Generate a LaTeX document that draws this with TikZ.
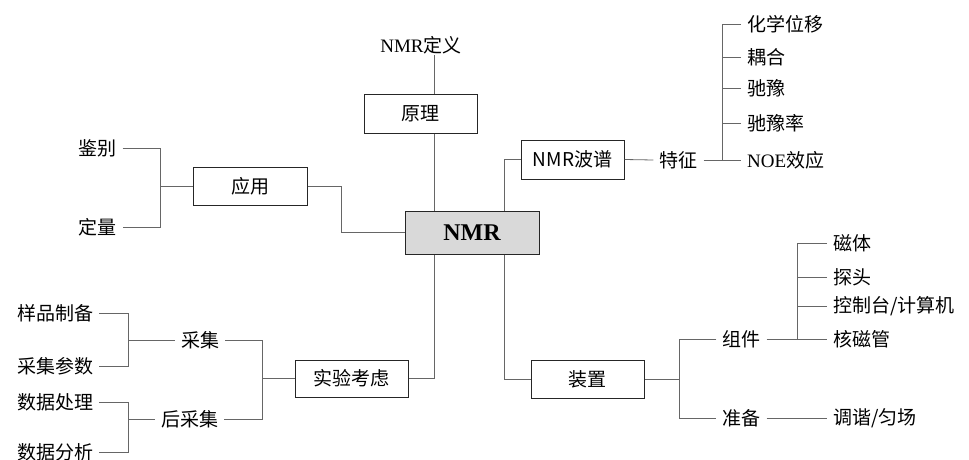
\documentclass[tikz,border=0pt]{standalone}
\usepackage{fontspec}
\setmainfont{Liberation Serif}
\newfontfamily\cjkfont{Noto Sans CJK SC}
\begin{document}
\begin{tikzpicture}[x=1pt,y=-1pt,
  box/.style={draw=black!85,line width=1pt,minimum height=38pt,inner sep=0pt,font=\fontsize{19}{21}\selectfont\cjkfont},
  lbl/.style={inner xsep=6pt,inner ysep=1pt,font=\fontsize{19}{21}\selectfont\cjkfont},
  ln/.style={draw=black!60,line width=0.8pt}]
\useasboundingbox (0,0) rectangle (969,460);
% coordinates for vertical trunks
\coordinate (xl) at (434,0);
\coordinate (xr) at (504,0);
\coordinate (xa) at (341,0);
\coordinate (xy) at (160,0);
\coordinate (xs) at (262,0);
\coordinate (xq) at (128,0);
\coordinate (xt) at (722,0);
\coordinate (xz) at (679,0);
\coordinate (xc) at (797,0);
% boxes
\node[box,fill=black!15,minimum width=134pt,minimum height=43pt,font=\fontsize{24}{26}\selectfont\bfseries] (nmr) at (472,232.5) {NMR};
\node[box,minimum width=113pt,minimum height=39pt] (yuanli) at (420.5,113.5) {原理};
\node[box,minimum width=114pt] (yingyong) at (250,186) {应用};
\node[box,minimum width=103pt,minimum height=39pt] (pu) at (572.5,159.5) {NMR{\cjkfont 波谱}};
\node[box,minimum width=113pt,minimum height=37pt] (shiyan) at (351.5,378.5) {实验考虑};
\node[box,minimum width=113pt] (zhuangzhi) at (587.5,379) {装置};
% labels
\node[lbl] (dingyi) at (421,45) {\fontspec{Liberation Serif}NMR{\cjkfont 定义}};
\node[lbl] (jianbie) at (97.5,148) {鉴别};
\node[lbl] (dingliang) at (97.5,227) {定量};
\node[lbl] (ypzb) at (55,313) {样品制备};
\node[lbl] (cjcs) at (55,366) {采集参数};
\node[lbl] (sjcl) at (55,402) {数据处理};
\node[lbl] (sjfx) at (55,452) {数据分析};
\node[lbl] (caiji) at (200,340) {采集};
\node[lbl] (houcaiji) at (189.5,419) {后采集};
\node[lbl] (tezheng) at (678.5,160) {特征};
\node[lbl,anchor=west] (hx) at (741,24) {化学位移};
\node[lbl,anchor=west] (oh) at (741,57) {耦合};
\node[lbl,anchor=west] (cy) at (741,88) {驰豫};
\node[lbl,anchor=west] (cyl) at (741,123) {驰豫率};
\node[lbl,anchor=west] (noe) at (741,160) {\fontspec{Liberation Serif}NOE{\cjkfont 效应}};
\node[lbl] (zujian) at (741.5,339) {组件};
\node[lbl] (zhunbei) at (741.5,418) {准备};
\node[lbl,anchor=west] (citi) at (827,243) {磁体};
\node[lbl,anchor=west] (tantou) at (827,277) {探头};
\node[lbl,anchor=west] (kzt) at (827,306) {控制台/计算机};
\node[lbl,anchor=west] (hcg) at (827,339) {核磁管};
\node[lbl,anchor=west] (tx) at (827,418) {调谐/匀场};
% connectors: center trunk
\draw[ln] (dingyi.south -| xl) -- (yuanli.north -| xl);
\draw[ln] (yuanli.south -| xl) -- (nmr.north -| xl);
\draw[ln] (shiyan.east) -| (nmr.south -| xl);
\draw[ln] (yingyong.east) -| (xa |- nmr.west) -- (nmr.west);
\draw[ln] (nmr.north -| xr) |- (pu.west);
\draw[ln] (nmr.south -| xr) |- (zhuangzhi.west);
% applications
\draw[ln] (jianbie.east) -| (xy |- dingliang.east) -- (dingliang.east);
\draw[ln] (xy |- yingyong.west) -- (yingyong.west);
% experiment
\draw[ln] (caiji.east) -| (xs |- houcaiji.east) -- (houcaiji.east);
\draw[ln] (xs |- shiyan.west) -- (shiyan.west);
\draw[ln] (ypzb.east) -| (xq |- cjcs.east) -- (cjcs.east);
\draw[ln] (xq |- caiji.west) -- (caiji.west);
\draw[ln] (sjcl.east) -| (xq |- sjfx.east) -- (sjfx.east);
\draw[ln] (xq |- houcaiji.west) -- (houcaiji.west);
% spectrum
\draw[ln] (pu.east) -- (tezheng.west);
\draw[ln] (tezheng.east) -- (noe.west);
\draw[ln] (hx.west) -| (xt |- noe.west);
\draw[ln] (oh.west) -- (oh.west -| xt);
\draw[ln] (cy.west) -- (cy.west -| xt);
\draw[ln] (cyl.west) -- (cyl.west -| xt);
% apparatus
\draw[ln] (zhuangzhi.east) -- (zhuangzhi.east -| xz);
\draw[ln] (zujian.west) -| (xz |- zhunbei.west) -- (zhunbei.west);
\draw[ln] (zujian.east) -- (hcg.west);
\draw[ln] (citi.west) -| (xc |- hcg.west);
\draw[ln] (tantou.west) -- (tantou.west -| xc);
\draw[ln] (kzt.west) -- (kzt.west -| xc);
\draw[ln] (zhunbei.east) -- (tx.west);
\end{tikzpicture}
\end{document}
